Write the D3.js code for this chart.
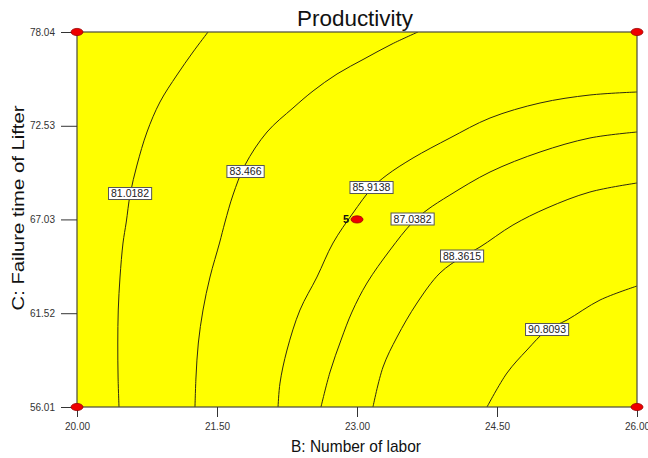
<!DOCTYPE html>
<html>
<head>
<meta charset="utf-8">
<script src="https://cdn.jsdelivr.net/npm/d3@7"></script>
<style>
  html, body { margin: 0; padding: 0; background: #ffffff; }
  svg { display: block; font-family: "Liberation Sans", Arial, sans-serif; }
</style>
</head>
<body>
<svg id="chart" width="648" height="458"></svg>
<script>
// Axis ranges of the two factors
const bDomain = [20.00, 26.00];
const cDomain = [56.01, 78.04];
const xTicks = [20.00, 21.50, 23.00, 24.50, 26.00];
const yTicks = [56.01, 61.52, 67.03, 72.53, 78.04];

// Contour levels of the Productivity response
const levels = ["81.0182", "83.466", "85.9138", "87.0382", "88.3615", "90.8093"];

// Contour paths, as [B: Number of labor, C: Failure time of Lifter]
const contour81 = [[21.404,78.04],[21.243,76.865],[21.071,75.514],[20.889,73.927],[20.750,72.165],[20.643,70.226],[20.570,68.522],[20.528,66.878],[20.493,65.643],[20.461,63.646],[20.442,61.707],[20.437,59.769],[20.440,57.771],[20.450,56.01]];
const contour83 = [[23.653,78.04],[23.375,77.335],[23.075,76.454],[22.786,75.573],[22.529,74.574],[22.314,73.575],[22.036,72.165],[21.800,70.226],[21.671,68.464],[21.586,66.878],[21.527,65.643],[21.425,63.646],[21.350,61.707],[21.300,59.769],[21.275,57.771],[21.264,56.01]];
const contour85 = [[26.00,74.515],[25.496,74.339],[24.961,73.869],[24.425,72.987],[23.996,71.813],[23.600,70.638],[23.321,69.639],[23.161,68.875],[22.957,67.406],[22.743,65.643],[22.571,63.646],[22.389,61.707],[22.250,59.357],[22.175,57.418],[22.154,56.01]];
const contour87 = [[26.00,72.165],[25.496,71.813],[24.961,70.990],[24.425,69.815],[23.996,68.464],[23.750,67.582],[23.589,66.819],[23.354,65.232],[23.107,63.293],[22.946,61.590],[22.829,59.945],[22.711,58.065],[22.614,56.01]];
const contour88 = [[26.00,69.169],[25.496,68.640],[25.036,67.700],[24.671,66.701],[24.318,65.409],[24.125,64.821],[23.889,63.881],[23.643,62.119],[23.429,60.121],[23.279,58.359],[23.171,56.01]];
const contour90 = [[26.00,63.117],[25.604,62.295],[25.250,61.120],[25.036,60.532],[24.821,59.357],[24.607,58.006],[24.393,56.01]];
const contours = [contour81, contour83, contour85, contour87, contour88, contour90];

// Where each level's value label sits on its line
const labelB = [20.568, 21.805, 23.155, 23.595, 24.125, 25.036];
const labelC = [68.552, 69.844, 68.904, 67.054, 64.880, 60.562];

// Design points (corner runs and the replicated centre point)
const designB = [20.00, 26.00, 20.00, 26.00, 23.00];
const designC = [78.04, 78.04, 56.01, 56.01, 67.03];
const designRuns = ["", "", "", "", "5"];

const svg = d3.select("#chart");
const plot = { left: 77, right: 637, top: 32, bottom: 407 };

const x = d3.scaleLinear().domain(bDomain).range([plot.left, plot.right]);
const y = d3.scaleLinear().domain(cDomain).range([plot.bottom, plot.top]);

svg.append("defs").append("clipPath").attr("id", "plotClip")
  .append("rect")
  .attr("x", plot.left).attr("y", plot.top)
  .attr("width", plot.right - plot.left).attr("height", plot.bottom - plot.top);

// Yellow response area
svg.append("rect")
  .attr("x", x(bDomain[0])).attr("y", y(cDomain[1]))
  .attr("width", x(bDomain[1]) - x(bDomain[0]))
  .attr("height", y(cDomain[0]) - y(cDomain[1]))
  .attr("fill", "#ffff00");

// Contour lines
const line = d3.line()
  .x(d => x(d[0]))
  .y(d => y(d[1]))
  .curve(d3.curveCatmullRom.alpha(0.5));

svg.append("g").attr("clip-path", "url(#plotClip)")
  .selectAll("path")
  .data(contours)
  .join("path")
  .attr("d", line)
  .attr("fill", "none")
  .attr("stroke", "#2e2a10")
  .attr("stroke-width", 1);

// Frame
svg.append("rect")
  .attr("x", plot.left).attr("y", plot.top)
  .attr("width", plot.right - plot.left).attr("height", plot.bottom - plot.top)
  .attr("fill", "none")
  .attr("stroke", "#4a4a3a")
  .attr("stroke-width", 1.2);

// Axes
const fmt = d3.format(".2f");
const yAxis = svg.append("g")
  .attr("transform", `translate(${plot.left},0)`)
  .call(d3.axisLeft(y).tickValues(yTicks).tickFormat(fmt).tickSize(16).tickPadding(6));
const xAxis = svg.append("g")
  .attr("transform", `translate(0,${plot.bottom})`)
  .call(d3.axisBottom(x).tickValues(xTicks).tickFormat(fmt).tickSize(10).tickPadding(6));

[yAxis, xAxis].forEach(g => {
  g.select(".domain").remove();
  g.selectAll(".tick line").attr("stroke", "#333").attr("stroke-width", 1);
  g.selectAll(".tick text")
    .attr("fill", "#333")
    .style("font-size", "10px")
    .style("font-family", "'Liberation Sans', Arial, sans-serif");
});

// Contour value labels
const labels = svg.append("g").selectAll("g")
  .data(levels)
  .join("g")
  .attr("transform", (d, i) => `translate(${x(labelB[i])},${y(labelC[i])})`);

labels.append("text")
  .attr("text-anchor", "middle")
  .attr("dy", "0.35em")
  .attr("fill", "#222")
  .style("font-size", "10.5px")
  .text(d => d);

labels.each(function () {
  const g = d3.select(this);
  const bb = g.select("text").node().getBBox();
  g.insert("rect", "text")
    .attr("x", bb.x - 2.5).attr("y", -6)
    .attr("width", bb.width + 5).attr("height", 12)
    .attr("fill", "#ffffff")
    .attr("stroke", "#555")
    .attr("stroke-width", 1);
});

// Design points
const pts = svg.append("g").selectAll("g")
  .data(designB)
  .join("g")
  .attr("transform", (d, i) => `translate(${x(d)},${y(designC[i])})`);

pts.append("ellipse")
  .attr("rx", 6).attr("ry", 3.6)
  .attr("fill", "#ee0000")
  .attr("stroke", "#9a0000")
  .attr("stroke-width", 0.8);

pts.append("text")
  .attr("x", -8)
  .attr("dy", "0.36em")
  .attr("text-anchor", "end")
  .attr("fill", "#111")
  .style("font-size", "11px")
  .style("font-weight", "bold")
  .text((d, i) => designRuns[i]);

// Titles
svg.append("text")
  .attr("x", 355).attr("y", 26)
  .attr("text-anchor", "middle")
  .attr("fill", "#111")
  .attr("textLength", 116)
  .attr("lengthAdjust", "spacingAndGlyphs")
  .style("font-size", "22px")
  .text("Productivity");

svg.append("text")
  .attr("x", 356).attr("y", 452)
  .attr("text-anchor", "middle")
  .attr("fill", "#111")
  .attr("textLength", 130)
  .attr("lengthAdjust", "spacingAndGlyphs")
  .style("font-size", "17px")
  .text("B: Number of labor");

svg.append("text")
  .attr("transform", "translate(24,208) rotate(-90)")
  .attr("text-anchor", "middle")
  .attr("fill", "#111")
  .attr("textLength", 205)
  .attr("lengthAdjust", "spacingAndGlyphs")
  .style("font-size", "17px")
  .text("C: Failure time of Lifter");
</script>
</body>
</html>
